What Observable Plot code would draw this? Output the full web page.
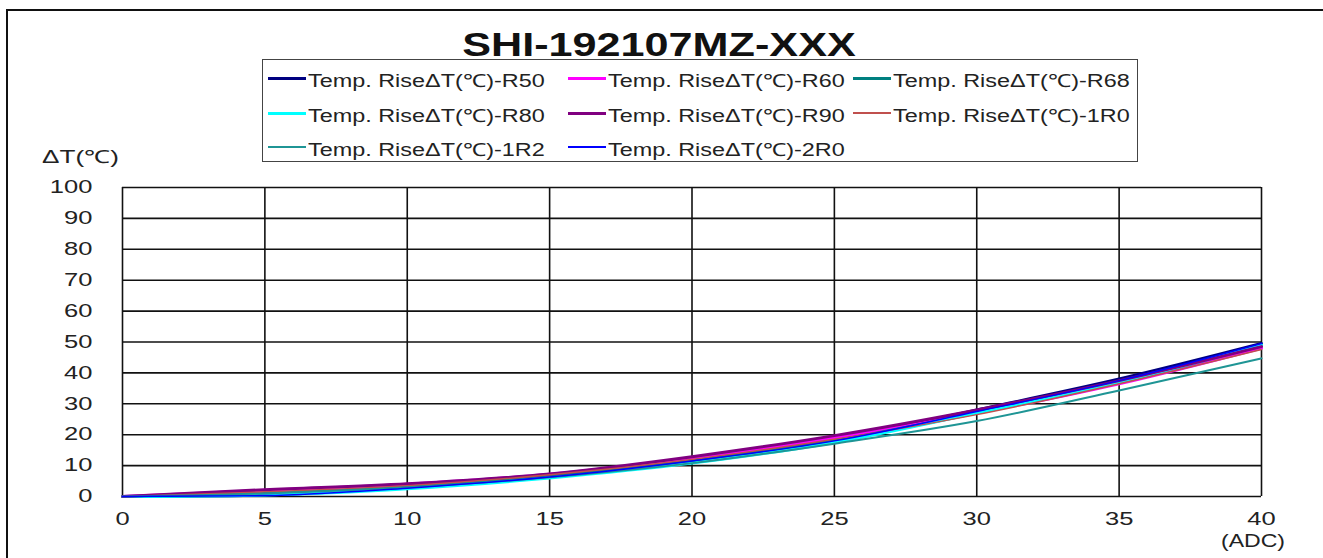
<!DOCTYPE html>
<html>
<head>
<meta charset="utf-8">
<script src="https://cdn.jsdelivr.net/npm/d3@7"></script>
<script src="https://cdn.jsdelivr.net/npm/@observablehq/plot@0.6"></script>
<style>
  html, body { margin: 0; padding: 0; background: #fff; }
  #wrap { position: relative; width: 1323px; height: 558px; overflow: hidden; font-family: "Liberation Sans", Arial, sans-serif; color: #222; }
  #border { position: absolute; left: 6px; top: 9px; width: 1400px; height: 600px; border: 2px solid #111; box-sizing: border-box; }
  .t { position: absolute; white-space: nowrap; line-height: 1; }
  #title { left: 0; width: 1318px; text-align: center; top: 27px; font-size: 34px; font-weight: bold; color: #111; }
  #title span { display: inline-block; transform: scaleX(1.27); transform-origin: center; }
  #legend { position: absolute; left: 262px; top: 59px; width: 876px; height: 103px; border: 1px solid #444; box-sizing: border-box; }
  .item { position: absolute; height: 20px; }
  .sw { position: absolute; left: 0; width: 38px; }
  .lt { position: absolute; left: 40px; top: 0; font-size: 18px; transform: scaleX(1.3); transform-origin: left center; white-space: nowrap; line-height: 20px; }
  .sx { display: inline-block; transform-origin: left center; }
  #plot { position: absolute; left: 0; top: 170px; }
</style>
</head>
<body>
<div id="wrap">
  <div id="border"></div>
  <div id="title" class="t"><span>SHI-192107MZ-XXX</span></div>
  <div id="legend"></div>
  <div class="t" style="left:42px; top:148px; font-size:18px;"><span class="sx" style="transform: scaleX(1.45);">ΔT(℃)</span></div>
  <div class="t" style="left:1221px; top:532px; font-size:18px;"><span class="sx" style="transform: scaleX(1.28);">(ADC)</span></div>
  <div id="plot"></div>
</div>
<script>
// Current (ADC)
const current = [0, 5, 10, 15, 20, 25, 30, 35, 40];
// Series names
const seriesNames = [
  "Temp. RiseΔT(℃)-R50", "Temp. RiseΔT(℃)-R60", "Temp. RiseΔT(℃)-R68",
  "Temp. RiseΔT(℃)-R80", "Temp. RiseΔT(℃)-R90", "Temp. RiseΔT(℃)-1R0",
  "Temp. RiseΔT(℃)-1R2", "Temp. RiseΔT(℃)-2R0"
];
// Temperature rise values (°C)
const riseR50 = [0, 0.5, 2.8, 6.5, 11.5, 18.5, 28.0, 38.0, 49.5];
const riseR60 = [0, 2.0, 4.0, 7.2, 12.5, 19.0, 27.0, 36.5, 48.0];
const riseR68 = [0, 1.0, 3.0, 6.5, 11.5, 18.0, 27.0, 37.0, 49.0];
const riseR80 = [0, 0.5, 2.5, 6.0, 10.8, 17.5, 27.0, 37.0, 49.0];
const riseR90 = [0, 2.2, 4.1, 7.3, 12.9, 19.7, 28.0, 37.5, 48.5];
const rise1R0 = [0, 1.5, 3.5, 7.0, 12.0, 18.5, 26.5, 36.5, 47.6];
const rise1R2 = [0, 1.0, 3.0, 6.2, 10.8, 17.1, 24.4, 34.3, 44.7];
const rise2R0 = [0, 0.3, 2.7, 6.3, 11.5, 18.0, 27.5, 37.5, 49.5];
const seriesValues = [riseR50, riseR60, riseR68, riseR80, riseR90, rise1R0, rise1R2, rise2R0];
// Styling
const seriesColors = ["#000080", "#ff00ff", "#008080", "#00ffff", "#800080", "#c0504d", "#1f9595", "#0000ff"];
const seriesWidths = [3, 3, 3, 3, 3, 1.5, 2, 1.5];
// Ticks
const xTicks = [0, 5, 10, 15, 20, 25, 30, 35, 40];
const yTicks = [0, 10, 20, 30, 40, 50, 60, 70, 80, 90, 100];

// Legend (HTML)
const legend = document.getElementById("legend");
const colLeft = [5, 305, 590];
const rowTop = [11, 46, 80];
seriesNames.forEach((name, i) => {
  const item = document.createElement("div");
  item.className = "item";
  item.style.left = colLeft[i % 3] + "px";
  item.style.top = rowTop[Math.floor(i / 3)] + "px";
  const sw = document.createElement("div");
  sw.className = "sw";
  sw.style.top = (10 - seriesWidths[i] / 2 - 3) + "px";
  sw.style.height = seriesWidths[i] + "px";
  sw.style.background = seriesColors[i];
  const lt = document.createElement("div");
  lt.className = "lt";
  lt.textContent = name;
  item.appendChild(sw);
  item.appendChild(lt);
  legend.appendChild(item);
});

const rows = [];
seriesNames.forEach((name, s) => {
  current.forEach((c, k) => rows.push({series: name, current: c, rise: seriesValues[s][k]}));
});

const chart = Plot.plot({
  width: 1323,
  height: 388,
  marginLeft: 122,
  marginRight: 62,
  marginTop: 17,
  marginBottom: 62,
  style: {fontSize: "18px", fontFamily: "'Liberation Sans', Arial, sans-serif", color: "#222", background: "transparent"},
  x: {domain: [0, 40], ticks: xTicks, tickSize: 0, tickPadding: 16, label: null},
  y: {domain: [0, 100], ticks: yTicks, tickSize: 0, tickPadding: 30, label: null},
  marks: [
    Plot.ruleY(yTicks, {stroke: "#111", strokeWidth: 1.6}),
    Plot.ruleX(xTicks, {stroke: "#111", strokeWidth: 1.6}),
    ...seriesNames.map((name, s) =>
      Plot.line(rows.filter(d => d.series === name), {
        x: "current", y: "rise",
        stroke: seriesColors[s], strokeWidth: seriesWidths[s],
        curve: "monotone-x"
      })
    )
  ]
});
document.getElementById("plot").appendChild(chart);
// Widen tick labels horizontally to match the reference's stretched lettering
chart.querySelectorAll("text").forEach(t => {
  const tr = t.getAttribute("transform") || "";
  const m = tr.match(/translate\(\s*([-\d.e]+)[ ,]+([-\d.e]+)\s*\)/);
  let tx = 0, ty = 0;
  if (m) { tx = +m[1]; ty = +m[2]; }
  const x0 = parseFloat(t.getAttribute("x") || "0") || 0;
  t.setAttribute("x", 0);
  t.setAttribute("transform", `translate(${tx + x0},${ty}) scale(1.42,1)`);
});
</script>
</body>
</html>
